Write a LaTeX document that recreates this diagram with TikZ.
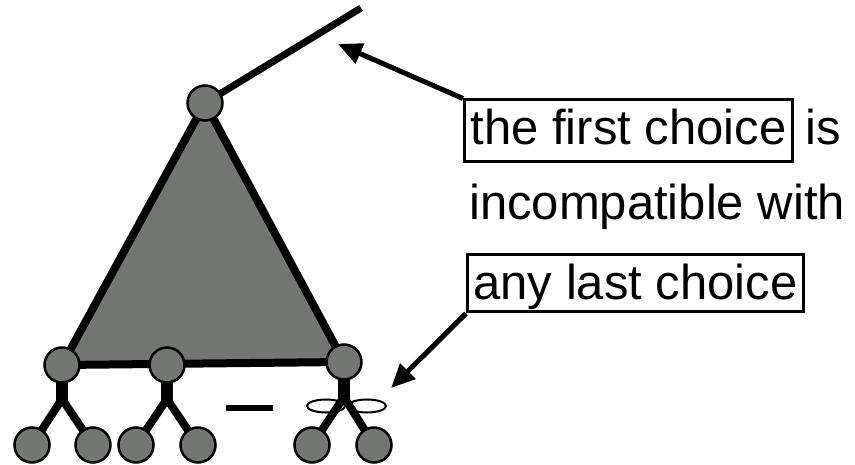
\documentclass[tikz,border=0pt]{standalone}
\usepackage{fontspec}
\setmainfont{Liberation Sans}
\usetikzlibrary{arrows.meta,calc,backgrounds}
\definecolor{nodegray}{RGB}{116,118,116}
\begin{document}
\begin{tikzpicture}[x=1pt,y=-1pt,
  dot/.style={circle,draw=black,line width=2.5pt,fill=nodegray,minimum size=35pt,inner sep=0pt},
  treeedge/.style={line width=8pt},
  stem/.style={line width=12pt},
  arr/.style={line width=5pt,-{Triangle[length=24pt,width=21pt]}},
  lbl/.style={font=\fontsize{49}{49}\selectfont,inner sep=0pt},
  boxed/.style={lbl,draw=black,line width=3pt,inner xsep=6pt}
]
\useasboundingbox (0,0) rectangle (855,465);

% nodes
\node[dot] (top) at (205,103) {};
\node[dot] (p1) at (62,365) {};
\node[dot] (p2) at (167,365) {};
\node[dot] (p3) at (344,362) {};
\node[dot] (l1) at (32,445) {};
\node[dot] (l2) at (93,445) {};
\node[dot] (l3) at (136,445) {};
\node[dot] (l4) at (198,445) {};
\node[dot] (l5) at (312,445) {};
\node[dot] (l6) at (374,445) {};

\coordinate (tend) at (361,8);
\coordinate (x1) at (62,399);
\coordinate (x2) at (167,399);
\coordinate (x3) at (344,397);
\coordinate (tip1) at (338,44);
\coordinate (tip2) at (391,388);
\coordinate (dashA) at (226,408);
\coordinate (dashB) at (273,408);

\begin{pgfonlayer}{background}
  \filldraw[fill=nodegray,line width=8pt,line join=round]
    (top.center) -- (p1.center) -- (p3.center) -- cycle;
  \draw[line width=7pt] (top.center) -- (tend);
  \draw[line width=2pt] (326,406) ellipse [x radius=19, y radius=6.5];
  \draw[line width=2pt] (367,406) ellipse [x radius=19, y radius=6.5];
  \foreach \p/\x in {p1/x1,p2/x2,p3/x3}
    \draw[stem] (\p.center) -- ($(\x)+(0,2)$);
  \foreach \l/\x in {l1/x1,l2/x1,l3/x2,l4/x2,l5/x3,l6/x3}
    \draw[treeedge] (\l.center) -- (\x);
\end{pgfonlayer}

\draw[line width=6pt] (dashA) -- (dashB);

% texts
\node[boxed,text height=45pt,text depth=17pt,anchor=base west] (b1) at (463,145) {the first choice};
\node[lbl,anchor=base west] (is) at (805,145) {is};
\node[lbl,anchor=base west] (inc) at (469,220) {incompatible with};
\node[boxed,text height=45pt,text depth=12pt,anchor=base west] (b2) at (466,300) {any last choice};

% arrows
\draw[arr] (b1.north west) -- (tip1);
\draw[arr] (b2.south west) -- (tip2);
\end{tikzpicture}
\end{document}
